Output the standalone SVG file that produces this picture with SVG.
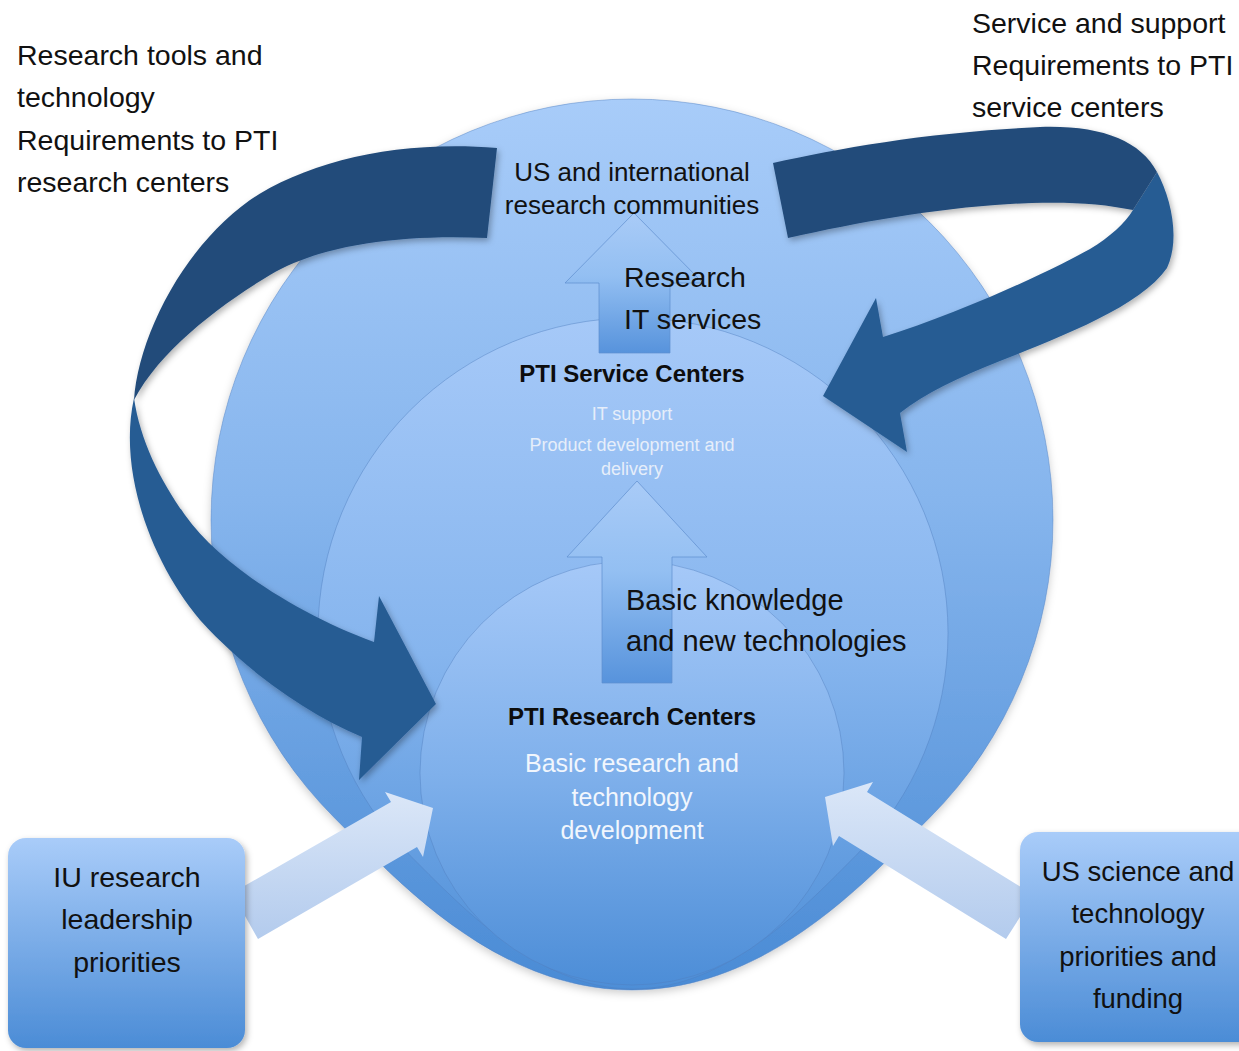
<svg xmlns="http://www.w3.org/2000/svg" width="1239" height="1051" viewBox="0 0 1239 1051">
  <defs>
    <linearGradient id="gOuter" x1="0" y1="99" x2="0" y2="990" gradientUnits="userSpaceOnUse">
      <stop offset="0" stop-color="#a8ccf9"/>
      <stop offset="0.45" stop-color="#86b5ed"/>
      <stop offset="1" stop-color="#4a8bd5"/>
    </linearGradient>
    <linearGradient id="gMiddle" x1="0" y1="318" x2="0" y2="989" gradientUnits="userSpaceOnUse">
      <stop offset="0" stop-color="#a6c9f8"/>
      <stop offset="0.5" stop-color="#86b5ee"/>
      <stop offset="1" stop-color="#4d8ed7"/>
    </linearGradient>
    <linearGradient id="gInner" x1="0" y1="560" x2="0" y2="988" gradientUnits="userSpaceOnUse">
      <stop offset="0" stop-color="#a6c9f8"/>
      <stop offset="0.5" stop-color="#7fb0eb"/>
      <stop offset="1" stop-color="#4c8dd7"/>
    </linearGradient>
    <linearGradient id="gBox" x1="0" y1="0" x2="0" y2="1">
      <stop offset="0" stop-color="#a9ccf9"/>
      <stop offset="1" stop-color="#4b8cd6"/>
    </linearGradient>
    <linearGradient id="gUp" x1="0" y1="0" x2="0" y2="1">
      <stop offset="0" stop-color="#a9cbf7"/>
      <stop offset="0.45" stop-color="#93bff2"/>
      <stop offset="1" stop-color="#5793dc"/>
    </linearGradient>
    <linearGradient id="gFeedL" x1="0" y1="0" x2="0" y2="1">
      <stop offset="0" stop-color="#dbe7f8"/>
      <stop offset="1" stop-color="#b3cbed"/>
    </linearGradient>
    <filter id="shadow" x="-10%" y="-10%" width="130%" height="130%">
      <feDropShadow dx="2" dy="3" stdDeviation="3" flood-color="#000" flood-opacity="0.3"/>
    </filter>
    <filter id="softShadow" x="-10%" y="-10%" width="130%" height="130%">
      <feDropShadow dx="0" dy="3" stdDeviation="4" flood-color="#000" flood-opacity="0.2"/>
    </filter>
  </defs>
  <style>
    .lbl { font-family: "Liberation Sans", Arial, sans-serif; font-size: 28.5px; fill: #111; }
    .mid { text-anchor: middle; }
    .head { font-family: "Liberation Sans", Arial, sans-serif; font-size: 24px; font-weight: bold; fill: #0d0d0d; text-anchor: middle; }
    .sub { font-family: "Liberation Sans", Arial, sans-serif; font-size: 18px; fill: #e6eefa; text-anchor: middle; }
    .desc { font-family: "Liberation Sans", Arial, sans-serif; font-size: 25px; fill: #f1f6fd; text-anchor: middle; }
    .comm { font-family: "Liberation Sans", Arial, sans-serif; font-size: 26px; fill: #111; text-anchor: middle; }
    .ring { stroke: #4f7fbf; stroke-opacity: 0.45; stroke-width: 1; }
    .ribbonTop { fill: #224b7a; }
    .ribbonLow { fill: #285c93; }
    .upArrow { fill: url(#gUp); stroke: #5f8fce; stroke-opacity: 0.7; stroke-width: 1; }
    .feed { fill: url(#gFeedL); }
    .box { fill: url(#gBox); }
  </style>

  <!-- nested communities: outer, service, research -->
  <g id="communities" filter="url(#softShadow)">
    <path class="ring" fill="url(#gOuter)" d="M334.3,817.7 A421,421 0 1 1 929.7,817.7 C870,877 770,990 632,990 C494,990 394,877 334.3,817.7 Z"/>
  </g>
  <g id="service-centers">
    <path class="ring" fill="url(#gMiddle)" d="M410.3,855.7 A315,315 0 1 1 855.7,855.7 C810,901 730,989 633,989 C536,989 456,901 410.3,855.7 Z"/>
  </g>
  <g id="research-centers">
    <circle class="ring" fill="url(#gInner)" cx="632" cy="773" r="212"/>
  </g>

  <!-- connectors -->
  <g id="connectors">
    <!-- flow up through the centers -->
    <path class="upArrow" d="M634,213 L703,283 L670,283 L670,353 L599,353 L599,283 L565,283 Z"/>
    <path class="upArrow" d="M637,481 L707,557 L672,557 L672,683 L602,683 L602,557 L567,557 Z"/>

    <!-- requirements ribbon to research centers -->
    <g filter="url(#shadow)">
      <path class="ribbonLow" d="M134,398 C118,470 150,560 200,620 C250,675 310,715 362,737 L359,780 L436,704 L379,596 L374,642 C300,615 220,565 185,515 C160,480 140,440 134,398 Z"/>
      <path class="ribbonTop" d="M497,148 L487,238 C400,234 320,245 270,275 C220,305 160,350 134,400 C138,340 180,250 250,200 C310,160 400,140 497,148 Z"/>
    </g>

    <!-- requirements ribbon to service centers -->
    <g filter="url(#shadow)">
      <path class="ribbonLow" d="M1157,172 C1172,200 1180,240 1167,268 C1140,307 1060,337 1000,361 C960,377 925,393 900,413 L907,452 L823,396 L876,298 L883,337 C950,316 1040,277 1090,249 C1110,237 1125,223 1133,210 Z"/>
      <path class="ribbonTop" d="M773,163 C840,148 930,132 1040,127 C1100,125 1140,140 1157,172 L1133,210 C1100,203 1060,201 1010,204 C930,209 860,222 788,238 Z"/>
    </g>

    <!-- external priorities feeding the research centers -->
    <path class="feed" d="M232,893 L391,802 L385,792 L433,808 L423,857 L417,847 L258,939 Z"/>
    <path class="feed" d="M1034,895 L867,792 L873,782 L825,797 L833,846 L839,836 L1006,939 Z"/>
  </g>

  <!-- priority boxes -->
  <g id="iu-priorities">
    <rect class="box" x="8" y="838" width="237" height="210" rx="18" filter="url(#shadow)"/>
    <text class="lbl mid" x="127" y="887">IU research</text>
    <text class="lbl mid" x="127" y="929">leadership</text>
    <text class="lbl mid" x="127" y="972">priorities</text>
  </g>
  <g id="us-priorities">
    <rect class="box" x="1020" y="832" width="240" height="210" rx="18" filter="url(#shadow)"/>
    <text class="lbl mid" x="1138" y="881" style="font-size:27.5px">US science and</text>
    <text class="lbl mid" x="1138" y="923" style="font-size:27.5px">technology</text>
    <text class="lbl mid" x="1138" y="966" style="font-size:27.5px">priorities and</text>
    <text class="lbl mid" x="1138" y="1008" style="font-size:27.5px">funding</text>
  </g>

  <!-- ring labels -->
  <g id="communities-label">
    <text class="comm" x="632" y="181">US and international</text>
    <text class="comm" x="632" y="214">research communities</text>
  </g>
  <g id="service-label">
    <text class="head" x="632" y="382">PTI Service Centers</text>
    <text class="sub" x="632" y="420">IT support</text>
    <text class="sub" x="632" y="451">Product development and</text>
    <text class="sub" x="632" y="475">delivery</text>
  </g>
  <g id="research-label">
    <text class="head" x="632" y="725">PTI Research Centers</text>
    <text class="desc" x="632" y="772">Basic research and</text>
    <text class="desc" x="632" y="806">technology</text>
    <text class="desc" x="632" y="839">development</text>
  </g>

  <!-- flow labels -->
  <g id="it-services-label">
    <text class="lbl" x="624" y="287">Research</text>
    <text class="lbl" x="624" y="329">IT services</text>
  </g>
  <g id="knowledge-label">
    <text class="lbl" x="626" y="610" style="font-size:29px">Basic knowledge</text>
    <text class="lbl" x="626" y="651" style="font-size:29px">and new technologies</text>
  </g>
  <g id="research-requirements">
    <text class="lbl" x="17" y="65">Research tools and</text>
    <text class="lbl" x="17" y="107">technology</text>
    <text class="lbl" x="17" y="150">Requirements to PTI</text>
    <text class="lbl" x="17" y="192">research centers</text>
  </g>
  <g id="service-requirements">
    <text class="lbl" x="972" y="33">Service and support</text>
    <text class="lbl" x="972" y="75">Requirements to PTI</text>
    <text class="lbl" x="972" y="117">service centers</text>
  </g>
</svg>
